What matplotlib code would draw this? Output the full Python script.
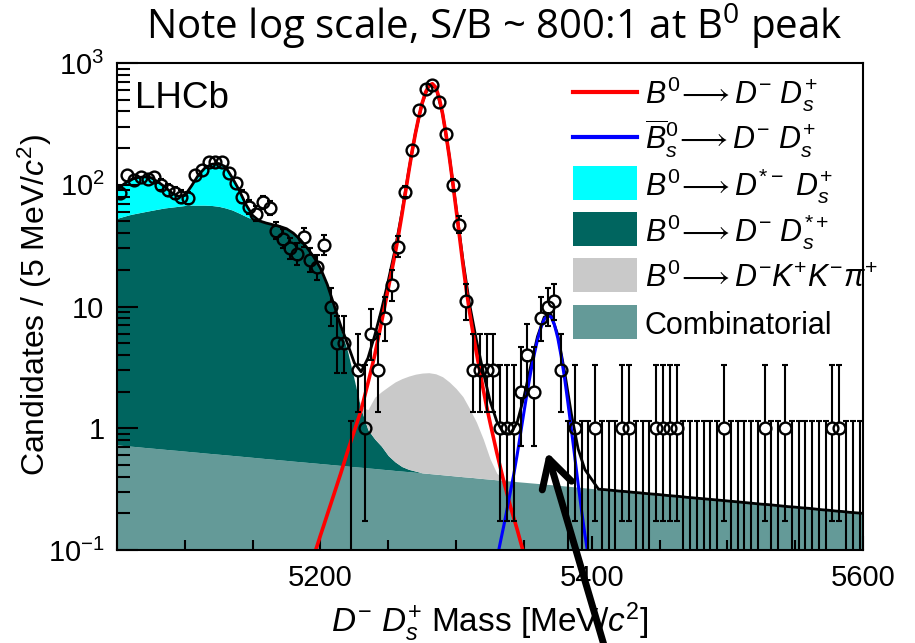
import numpy as np
import matplotlib
matplotlib.use("Agg")
import matplotlib.pyplot as plt
from matplotlib.patches import Rectangle, FancyArrowPatch
from matplotlib.lines import Line2D
from matplotlib.ticker import FixedLocator, FixedFormatter, MultipleLocator, LogLocator, NullFormatter

plt.rcParams['font.family'] = ['Liberation Sans', 'DejaVu Sans']
plt.rcParams['mathtext.fontset'] = 'custom'
plt.rcParams['mathtext.rm'] = 'Liberation Sans'
plt.rcParams['mathtext.it'] = 'Liberation Sans:italic'
plt.rcParams['mathtext.bf'] = 'Liberation Sans:bold'
plt.rcParams['mathtext.sf'] = 'Open Sans'
plt.rcParams['mathtext.fallback'] = 'stixsans'

# ---- fit components, one value every 5 MeV/c2 from 5050 ----
model_mass = np.arange(5050, 5601, 5)

combinatorial = [
    0.730, 0.721, 0.713, 0.705, 0.696, 0.688, 0.680, 0.672, 0.664, 0.657,
    0.649, 0.641, 0.634, 0.626, 0.619, 0.612, 0.605, 0.598, 0.591, 0.584,
    0.577, 0.570, 0.563, 0.557, 0.550, 0.544, 0.537, 0.531, 0.525, 0.519,
    0.513, 0.507, 0.501, 0.495, 0.489, 0.483, 0.478, 0.472, 0.467, 0.461,
    0.456, 0.450, 0.445, 0.440, 0.435, 0.430, 0.425, 0.420, 0.415, 0.410,
    0.405, 0.400, 0.396, 0.391, 0.386, 0.382, 0.377, 0.373, 0.369, 0.364,
    0.360, 0.356, 0.352, 0.348, 0.344, 0.340, 0.336, 0.332, 0.328, 0.324,
    0.320, 0.316, 0.313, 0.309, 0.305, 0.302, 0.298, 0.295, 0.291, 0.288,
    0.285, 0.281, 0.278, 0.275, 0.271, 0.268, 0.265, 0.262, 0.259, 0.256,
    0.253, 0.250, 0.247, 0.244, 0.241, 0.238, 0.236, 0.233, 0.230, 0.227,
    0.225, 0.222, 0.220, 0.217, 0.214, 0.212, 0.209, 0.207, 0.204, 0.202, 0.200,
]

# B0 -> D- Ds*+  (starts at 5050)
dsstar_start = 5050
dsstar = [
    52.3, 54.3, 56.3, 57.8, 59.3, 60.8, 62.3, 63.8, 64.8, 65.8,
    66.9, 67.4, 67.4, 67.4, 66.9, 65.9, 63.9, 61.4, 57.9, 54.4,
    51.4, 49.4, 47.9, 46.4, 44.9, 43.0, 39.5, 35.0, 30.0, 25.0,
    20.0, 14.5, 9.5, 6.0, 3.8, 2.0, 0.95, 0.5, 0.35, 0.25,
    0.14, 0.08, 0.04, 0.02, 0.01,
]

# B0 -> D*- Ds+  (starts at 5050)
dstar_start = 5050
dstar = [38, 46, 53, 56, 56, 53, 43, 32, 21, 14, 14, 30, 52, 70, 80, 83,
         76, 52, 32, 14, 4, 0.5]

# B0 -> D- K+ K- pi+  (starts at 5230)
dkkpi_start = 5230
dkkpi = [0.07, 0.45, 0.98, 1.29, 1.60, 1.87, 2.07, 2.22, 2.335, 2.41, 2.435,
         2.38, 2.235, 1.99, 1.715, 1.42, 1.05, 0.73, 0.43, 0.18, 0.05, 0.01]

# signal peaks, one value every 2.5 MeV/c2
b0_start = 5195
b0_fit = [
    0.089, 0.108, 0.132, 0.160, 0.195, 0.237, 0.288, 0.351, 0.427, 0.525,
    0.646, 0.785, 0.955, 1.16, 1.41, 1.82, 2.34, 3.05, 3.98, 5.43,
    7.41, 10.2, 14.1, 19.5, 26.9, 38.5, 56.2, 84.1, 126, 186,
    263, 359, 468, 575, 653, 676, 631, 519, 385, 263,
    170, 105, 63.1, 37.6, 22.4, 13.8, 8.91, 6.03, 4.17, 2.95,
    2.09, 1.51, 1.12, 0.841, 0.631, 0.484, 0.372, 0.292, 0.229, 0.184,
    0.148, 0.117, 0.093,
]
bs_start = 5330
bs_fit = [
    0.083, 0.114, 0.155, 0.214, 0.299, 0.417, 0.603, 0.902, 1.35, 2.0,
    2.88, 3.98, 5.31, 6.68, 7.85, 8.45, 8.22, 7.08, 5.50, 3.89,
    2.57, 1.60, 0.977, 0.582, 0.347, 0.211, 0.133, 0.088, 0.060,
]

# ---- data: candidates per 5 MeV/c2 bin ----
bin_centres = np.arange(5052.5, 5600, 5)
counts = [
    85, 120, 110, 115, 112, 115, 100, 90, 85, 80,
    78, 120, 132, 155, 155, 155, 124, 103, 80, 66,
    58, 72, 64, 42, 36, 30, 27, 37, 24, 21,
    32, 10, 5, 5, 0, 3, 1, 6, 3, 8,
    15, 31, 88, 193, 411, 608, 659, 481, 261, 100,
    47, 11, 3, 3, 3, 3, 1, 1, 1, 2,
    4, 2, 8, 10, 11, 3, 0, 1, 0, 0,
    1, 0, 0, 0, 1, 1, 0, 0, 0, 1,
    1, 1, 1, 0, 0, 0, 0, 0, 0, 1,
    0, 0, 0, 0, 0, 1, 0, 0, 1, 0,
    0, 0, 0, 0, 0, 1, 1, 0, 0, 0,
]

legend_labels = [
    r'$B^{0}\!\longrightarrow D^{-}\ D_{s}^{+}$',
    r'$\overline{B}_{s}^{0}\!\longrightarrow D^{-}\ D_{s}^{+}$',
    r'$B^{0}\!\longrightarrow D^{*-}\ D_{s}^{+}$',
    r'$B^{0}\!\longrightarrow D^{-}\ D_{s}^{*+}$',
    r'$B^{0}\!\longrightarrow D^{-}K^{+}K^{-}\pi^{+}$',
    'Combinatorial',
]

C_RED = '#ff0000'
C_BLUE = '#0000ff'
C_CYAN = '#00ffff'
C_DARK = '#00655f'
C_GREY = '#c9c9c9'
C_COMB = '#649a98'

W, H = 915, 643


def fx(px):
    return px / W


def fy(py):
    return 1 - py / H


def on_grid(values, start, step=5.0):
    out = np.zeros(len(model_mass))
    i0 = int(round((start - model_mass[0]) / step))
    out[i0:i0 + len(values)] = values
    return out


def poisson_band(n):
    n = np.asarray(n, float)
    m = np.maximum(n, 1)
    lo = np.where(n > 0, m * (1 - 1 / (9 * m) - 1 / (3 * np.sqrt(m))) ** 3, 0.0)
    hi = (n + 1) * (1 - 1 / (9 * (n + 1)) + 1 / (3 * np.sqrt(n + 1))) ** 3
    hi = np.where(n == 0, 1.148, hi)
    return lo, hi


comb = np.array(combinatorial)
ds = on_grid(dsstar, dsstar_start)
dst = on_grid(dstar, dstar_start)
kkp = on_grid(dkkpi, dkkpi_start)
b0_mass = b0_start + 2.5 * np.arange(len(b0_fit))
bs_mass = bs_start + 2.5 * np.arange(len(bs_fit))
total = comb + ds + dst + kkp + on_grid(b0_fit[::2], b0_start) + on_grid(bs_fit[::2], bs_start)

fig = plt.figure(figsize=(W / 100, H / 100), dpi=100)
ax = fig.add_axes([fx(117), fy(550), (863 - 117) / W, (550 - 63) / H])
ax.set_yscale('log')
ax.set_xlim(5050, 5600)
ax.set_ylim(0.1, 1000)

floor = 1e-3
ax.fill_between(model_mass, floor, comb, color=C_COMB, lw=0, zorder=1)
ax.fill_between(model_mass, comb, comb + ds, color=C_DARK, lw=0, zorder=1)
ax.fill_between(model_mass, comb + ds, comb + ds + dst, color=C_CYAN, lw=0, zorder=1)
ax.fill_between(model_mass, comb + ds, comb + ds + kkp, color=C_GREY, lw=0, zorder=1)

ax.plot(model_mass, total, color='black', lw=2.0, zorder=2)
ax.plot(b0_mass, b0_fit, color=C_RED, lw=2.6, zorder=2.2)
ax.plot(bs_mass, bs_fit, color=C_BLUE, lw=2.2, zorder=2.2)

# data points with Poisson error bars, bars stop at the marker edge
n = np.array(counts, float)
lo, hi = poisson_band(n)
gap = 10 ** 0.045
filled = n > 0
up_start = np.where(filled, n * gap, floor)
lo_end = np.where(filled, n / gap, floor)
show_up = hi > up_start
show_lo = filled & (lo < lo_end)
ax.vlines(bin_centres[show_up], up_start[show_up], hi[show_up], color='black', lw=1.5, zorder=3)
ax.vlines(bin_centres[show_lo], lo[show_lo], lo_end[show_lo], color='black', lw=1.5, zorder=3)
ax.plot(bin_centres[show_up], hi[show_up], ls='none', marker='_', ms=5, mew=1.5, color='black', zorder=3)
ax.plot(bin_centres[show_lo], lo[show_lo], ls='none', marker='_', ms=5, mew=1.5, color='black', zorder=3)
ax.plot(bin_centres[filled], n[filled], ls='none', marker='o', ms=8.5, mfc='none', mec='black', mew=1.7, zorder=3.1)

# axes styling
for sp in ax.spines.values():
    sp.set_linewidth(1.5)
ax.xaxis.set_major_locator(FixedLocator([5200, 5400, 5600]))
ax.xaxis.set_minor_locator(MultipleLocator(50))
ax.yaxis.set_major_locator(FixedLocator([0.1, 1, 10, 100, 1000]))
ax.yaxis.set_major_formatter(FixedFormatter(['$10^{-1}$', '1', '10', '$10^{2}$', '$10^{3}$']))
ax.yaxis.set_minor_locator(LogLocator(base=10, subs=np.arange(2, 10)))
ax.yaxis.set_minor_formatter(NullFormatter())
ax.tick_params(which='both', direction='in', top=False, right=False, labelsize=21)
ax.tick_params(axis='x', which='major', length=10, width=1.5, pad=10)
ax.tick_params(axis='x', which='minor', length=7, width=1.5)
ax.tick_params(axis='y', which='major', length=15, width=1.5, pad=9)
ax.tick_params(axis='y', which='minor', length=9, width=1.5)

fig.text(fx(135), fy(108), 'LHCb', fontsize=26.5, va='baseline', ha='left')

# legend drawn by hand
row_y = [92, 137, 183, 229, 275, 322]
handles = [('line', C_RED), ('line', C_BLUE), ('box', C_CYAN),
           ('box', C_DARK), ('box', C_GREY), ('box', C_COMB)]
for (kind, col), label, yc in zip(handles, legend_labels, row_y):
    if kind == 'line':
        fig.add_artist(Line2D([fx(573), fx(637)], [fy(yc), fy(yc)], color=col, lw=3))
    else:
        fig.add_artist(Rectangle((fx(573), fy(yc + 17)), fx(64), 34 / H, color=col, lw=0))
    fig.text(fx(645), fy(yc + 12), label, fontsize=22, va='baseline', ha='left')

fig.text(fx(35), fy(305), r'Candidates / (5 MeV/$c^{2}$)', rotation=90,
         ha='center', va='center', fontsize=23)
fig.text(fx(490), fy(632), r'$D^{-}\ D_{s}^{+}$ Mass [MeV/$c^{2}$]',
         ha='center', va='baseline', fontsize=24)

fig.text(fx(494), fy(39), r'Note log scale, S/B ~ 800:1 at B$^{\mathsf{0}}$ peak',
         ha='center', va='baseline', fontsize=29, family=['Open Sans', 'DejaVu Sans'])

arrow = FancyArrowPatch((fx(606), fy(652)), (fx(547), fy(452)), transform=fig.transFigure,
                        arrowstyle='->,head_length=1.0,head_width=0.55', mutation_scale=20,
                        lw=5, color='black', shrinkA=0, shrinkB=0)
fig.add_artist(arrow)

fig.savefig('out.png', dpi=100)
